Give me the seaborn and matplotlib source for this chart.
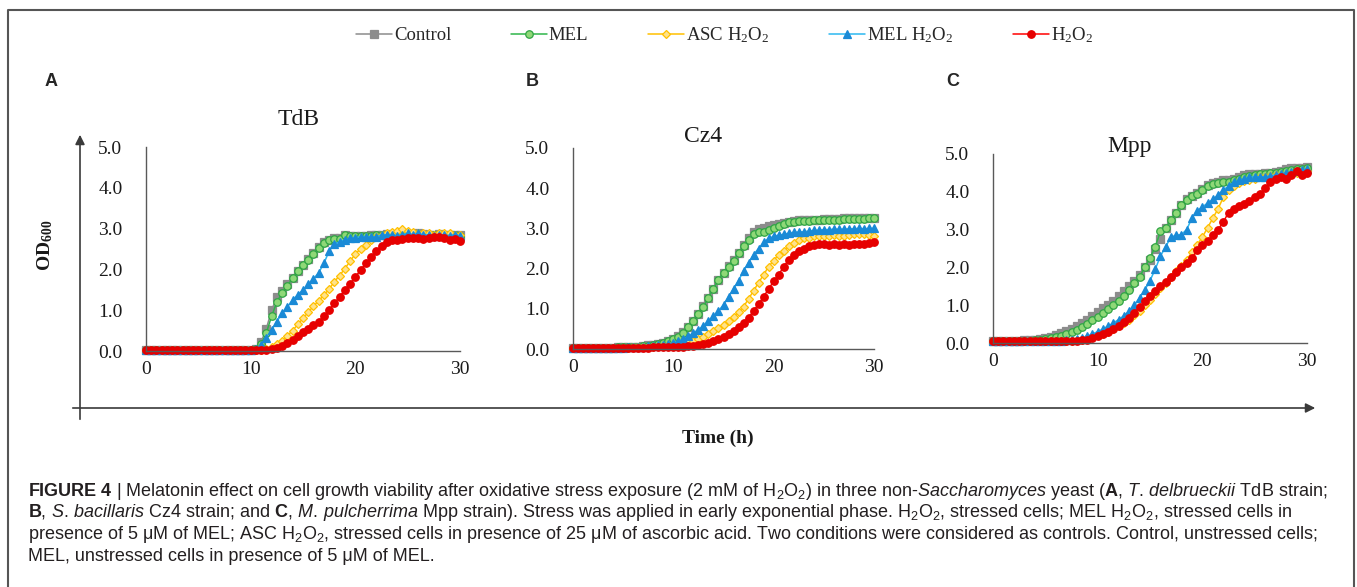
import numpy as np
import matplotlib
matplotlib.use("Agg")
import matplotlib.pyplot as plt
import seaborn as sns

# sampling times (h), one reading every 30 min
time_h = np.arange(0, 30.5, 0.5)

series_names = ["Control", "MEL", "ASC H$_2$O$_2$", "MEL H$_2$O$_2$", "H$_2$O$_2$"]
panel_titles = ["TdB", "Cz4", "Mpp"]
panel_letters = ["A", "B", "C"]

# ---- TdB ----
ctrl_a = [0.02] * 20 + [
    0.03, 0.06, 0.22, 0.55, 1.0, 1.32, 1.47, 1.63, 1.8, 1.96,
    2.1, 2.25, 2.4, 2.55, 2.67, 2.73, 2.77, 2.77, 2.85, 2.82,
    2.82, 2.83, 2.82, 2.84, 2.85, 2.85, 2.86, 2.85, 2.85, 2.87,
    2.86, 2.85, 2.88, 2.86, 2.85, 2.84, 2.86, 2.85, 2.84, 2.85,
    2.84]
mel_a = [0.02] * 20 + [
    0.03, 0.05, 0.16, 0.45, 0.85, 1.2, 1.42, 1.6, 1.78, 1.95,
    2.1, 2.24, 2.38, 2.53, 2.65, 2.71, 2.75, 2.75, 2.85, 2.82,
    2.82, 2.82, 2.83, 2.83, 2.84, 2.85, 2.85, 2.84, 2.85, 2.86,
    2.85, 2.84, 2.86, 2.85, 2.84, 2.84, 2.85, 2.84, 2.83, 2.84,
    2.83]
asc_a = [0.02] * 20 + [
    0.02, 0.02, 0.03, 0.06, 0.1, 0.16, 0.25, 0.37, 0.5, 0.65,
    0.8, 0.95, 1.1, 1.23, 1.37, 1.52, 1.7, 1.85, 2.02, 2.2,
    2.38, 2.5, 2.6, 2.72, 2.8, 2.85, 2.88, 2.92, 2.95, 2.98,
    2.95, 2.92, 2.9, 2.88, 2.88, 2.85, 2.88, 2.9, 2.88, 2.85,
    2.85]
melh_a = [0.02] * 20 + [
    0.02, 0.05, 0.15, 0.33, 0.52, 0.72, 0.92, 1.08, 1.25, 1.38,
    1.5, 1.63, 1.77, 1.92, 2.15, 2.45, 2.62, 2.68, 2.72, 2.76,
    2.78, 2.8, 2.8, 2.8, 2.8, 2.85, 2.85, 2.85, 2.82, 2.85,
    2.88, 2.85, 2.88, 2.85, 2.85, 2.83, 2.85, 2.85, 2.83, 2.85,
    2.83]
h2o2_a = [0.02] * 20 + [
    0.02, 0.02, 0.02, 0.03, 0.05, 0.08, 0.13, 0.2, 0.28, 0.37,
    0.46, 0.55, 0.63, 0.72, 0.85, 1.0, 1.17, 1.33, 1.5, 1.65,
    1.82, 1.98, 2.15, 2.3, 2.45, 2.58, 2.68, 2.73, 2.72, 2.75,
    2.77, 2.78, 2.76, 2.75, 2.77, 2.8, 2.8, 2.78, 2.72, 2.75,
    2.7]

# ---- Cz4 ----
ctrl_b = [
    0.03, 0.03, 0.03, 0.03, 0.03, 0.03, 0.03, 0.03, 0.03, 0.04,
    0.04, 0.04, 0.05, 0.06, 0.07, 0.09, 0.11, 0.13, 0.16, 0.2,
    0.25, 0.32, 0.42, 0.55, 0.7, 0.88, 1.07, 1.28, 1.5, 1.72,
    1.9, 2.06, 2.22, 2.4, 2.58, 2.75, 2.9, 2.98, 3.02, 3.05,
    3.08, 3.1, 3.14, 3.17, 3.19, 3.2, 3.2, 3.21, 3.22, 3.22,
    3.23, 3.23, 3.24, 3.24, 3.25, 3.25, 3.26, 3.26, 3.26, 3.27,
    3.27]
mel_b = [
    0.03, 0.03, 0.03, 0.03, 0.03, 0.03, 0.03, 0.03, 0.03, 0.04,
    0.04, 0.04, 0.05, 0.06, 0.07, 0.08, 0.1, 0.12, 0.15, 0.19,
    0.24, 0.31, 0.41, 0.54, 0.69, 0.87, 1.05, 1.28, 1.5, 1.72,
    1.9, 2.05, 2.2, 2.38, 2.55, 2.7, 2.85, 2.9, 2.92, 2.95,
    3.0, 3.05, 3.1, 3.15, 3.17, 3.18, 3.18, 3.19, 3.2, 3.2,
    3.21, 3.21, 3.22, 3.22, 3.23, 3.23, 3.24, 3.24, 3.24, 3.25,
    3.25]
asc_b = [
    0.03, 0.03, 0.03, 0.03, 0.03, 0.03, 0.03, 0.03, 0.03, 0.03,
    0.03, 0.03, 0.04, 0.04, 0.05, 0.05, 0.06, 0.07, 0.08, 0.1,
    0.11, 0.13, 0.15, 0.18, 0.21, 0.25, 0.3, 0.37, 0.44, 0.52,
    0.6, 0.7, 0.8, 0.92, 1.05, 1.25, 1.45, 1.65, 1.85, 2.05,
    2.2, 2.35, 2.45, 2.55, 2.63, 2.7, 2.75, 2.77, 2.8, 2.8,
    2.82, 2.82, 2.83, 2.82, 2.82, 2.83, 2.85, 2.85, 2.85, 2.84,
    2.82]
melh_b = [
    0.03, 0.03, 0.03, 0.03, 0.03, 0.03, 0.03, 0.03, 0.03, 0.03,
    0.03, 0.04, 0.04, 0.05, 0.06, 0.07, 0.08, 0.09, 0.1, 0.12,
    0.15, 0.19, 0.25, 0.32, 0.4, 0.48, 0.58, 0.7, 0.82, 0.95,
    1.1, 1.3, 1.5, 1.7, 1.95, 2.15, 2.35, 2.5, 2.65, 2.75,
    2.8, 2.83, 2.85, 2.88, 2.9, 2.91, 2.92, 2.93, 2.95, 2.95,
    2.97, 2.97, 2.98, 2.98, 2.98, 2.99, 2.99, 3.0, 2.99, 3.0,
    3.0]
h2o2_b = [
    0.03, 0.03, 0.03, 0.03, 0.03, 0.03, 0.03, 0.03, 0.03, 0.03,
    0.03, 0.03, 0.03, 0.03, 0.03, 0.03, 0.04, 0.04, 0.04, 0.04,
    0.05, 0.05, 0.06, 0.07, 0.08, 0.1, 0.12, 0.15, 0.2, 0.25,
    0.3, 0.37, 0.45, 0.55, 0.65, 0.78, 0.95, 1.12, 1.3, 1.5,
    1.68, 1.85, 2.05, 2.22, 2.35, 2.45, 2.5, 2.55, 2.58, 2.6,
    2.62, 2.58, 2.6, 2.58, 2.6, 2.58, 2.6, 2.6, 2.62, 2.63,
    2.65]

# ---- Mpp ----
ctrl_c = [
    0.04, 0.04, 0.04, 0.05, 0.05, 0.06, 0.07, 0.08, 0.09, 0.11,
    0.14, 0.17, 0.21, 0.26, 0.32, 0.38, 0.45, 0.53, 0.62, 0.72,
    0.82, 0.92, 1.0, 1.12, 1.25, 1.38, 1.5, 1.65, 1.8, 2.0,
    2.2, 2.5, 2.75, 3.05, 3.25, 3.45, 3.65, 3.8, 3.9, 3.98,
    4.08, 4.17, 4.22, 4.27, 4.3, 4.32, 4.35, 4.4, 4.45, 4.47,
    4.48, 4.48, 4.5, 4.5, 4.52, 4.55, 4.6, 4.62, 4.63, 4.64,
    4.66]
mel_c = [
    0.04, 0.04, 0.04, 0.04, 0.05, 0.05, 0.05, 0.06, 0.07, 0.08,
    0.1, 0.12, 0.15, 0.19, 0.25, 0.3, 0.35, 0.42, 0.5, 0.6,
    0.7, 0.8, 0.9, 1.0, 1.1, 1.25, 1.4, 1.58, 1.75, 2.0,
    2.25, 2.55, 2.95, 3.05, 3.25, 3.45, 3.65, 3.78, 3.88, 3.95,
    4.05, 4.15, 4.2, 4.22, 4.25, 4.27, 4.3, 4.35, 4.4, 4.42,
    4.45, 4.46, 4.48, 4.5, 4.5, 4.52, 4.55, 4.58, 4.6, 4.61,
    4.62]
asc_c = [
    0.04, 0.04, 0.04, 0.04, 0.04, 0.04, 0.04, 0.04, 0.04, 0.05,
    0.05, 0.05, 0.05, 0.05, 0.06, 0.06, 0.07, 0.09, 0.12, 0.16,
    0.2, 0.25, 0.3, 0.37, 0.45, 0.53, 0.62, 0.73, 0.85, 1.0,
    1.15, 1.3, 1.45, 1.6, 1.75, 1.9, 2.05, 2.2, 2.4, 2.6,
    2.8, 3.05, 3.3, 3.55, 3.85, 4.05, 4.15, 4.22, 4.28, 4.32,
    4.35, 4.38, 4.4, 4.42, 4.45, 4.45, 4.45, 4.48, 4.5, 4.52,
    4.55]
melh_c = [
    0.04, 0.04, 0.04, 0.04, 0.04, 0.04, 0.04, 0.04, 0.05, 0.05,
    0.05, 0.05, 0.06, 0.06, 0.07, 0.08, 0.1, 0.13, 0.18, 0.24,
    0.3, 0.37, 0.45, 0.53, 0.62, 0.72, 0.85, 1.0, 1.2, 1.4,
    1.65, 1.95, 2.3, 2.55, 2.8, 2.85, 2.87, 3.0, 3.3, 3.5,
    3.6, 3.7, 3.8, 3.92, 4.05, 4.15, 4.25, 4.3, 4.35, 4.38,
    4.4, 4.4, 4.4, 4.42, 4.45, 4.48, 4.5, 4.52, 4.55, 4.57,
    4.6]
h2o2_c = [
    0.04, 0.04, 0.04, 0.04, 0.04, 0.04, 0.04, 0.04, 0.04, 0.04,
    0.04, 0.04, 0.04, 0.04, 0.04, 0.04, 0.05, 0.07, 0.09, 0.13,
    0.18, 0.24, 0.3, 0.37, 0.45, 0.55, 0.65, 0.8, 0.95, 1.1,
    1.25, 1.38, 1.5, 1.62, 1.75, 1.88, 2.0, 2.12, 2.25, 2.45,
    2.6, 2.7, 2.85, 3.0, 3.2, 3.45, 3.55, 3.62, 3.68, 3.75,
    3.85, 3.95, 4.1, 4.25, 4.35, 4.4, 4.35, 4.45, 4.55, 4.45,
    4.5]

panels = [
    [ctrl_a, mel_a, asc_a, melh_a, h2o2_a],
    [ctrl_b, mel_b, asc_b, melh_b, h2o2_b],
    [ctrl_c, mel_c, asc_c, melh_c, h2o2_c],
]
for p in panels:
    for s in p:
        assert len(s) == len(time_h), len(s)

# line colour, marker, marker face, marker edge
styles = [
    ("#8c8c8c", "s", "#8c8c8c", "#8c8c8c"),
    ("#2fb54a", "o", "#8fd877", "#2fa544"),
    ("#ffc000", "D", "#ffe28a", "#ffc000"),
    ("#2cb8f0", "^", "#1a8ad6", "#1a8ad6"),
    ("#ff0000", "o", "#e60000", "#e60000"),
]

sns.set_style("white")
plt.rcParams["font.family"] = ["Liberation Serif", "DejaVu Serif"]
plt.rcParams["mathtext.fontset"] = "custom"
plt.rcParams["mathtext.default"] = "regular"
plt.rcParams["mathtext.rm"] = "Liberation Sans"
plt.rcParams["mathtext.it"] = "Liberation Sans:italic"
plt.rcParams["mathtext.bf"] = "Liberation Sans:bold"

W, H = 1357, 587
fig = plt.figure(figsize=(W / 100, H / 100), dpi=100)

# background layer in pixel units for frame, big arrows and captions
bg = fig.add_axes([0, 0, 1, 1], zorder=-1)
bg.set_xlim(0, W)
bg.set_ylim(H, 0)
bg.axis("off")
bg.plot([8, 8, 1354, 1354], [H, 10, 10, H], color="#555555", lw=1.5)
arrow = dict(arrowstyle="-|>", color="#3a3a3a", lw=1.2, mutation_scale=14)
bg.annotate("", xy=(80, 132), xytext=(80, 422), arrowprops=arrow)
bg.annotate("", xy=(1318, 408), xytext=(70, 408), arrowprops=arrow)

# panel boxes: left, bottom, width, height
boxes = [
    (146 / W, 1 - 351 / H, 314 / W, 204 / H),
    (573 / W, 1 - 349 / H, 301 / W, 201 / H),
    (993 / W, 1 - 343 / H, 314 / W, 189 / H),
]
title_pos = [(0.487, 1.135), (0.432, 1.055), (0.436, 1.042)]
letter_x = [51, 532, 953]

handles = None
for i, (box, data) in enumerate(zip(boxes, panels)):
    ax = fig.add_axes(box)
    ax.set_facecolor("none")
    for name, vals, (lc, mk, mfc, mec) in zip(series_names, data, styles):
        sns.lineplot(x=time_h, y=vals, ax=ax, color=lc, lw=1.1, marker=mk,
                     markersize=5.4 if mk != "D" else 4.4,
                     markerfacecolor=mfc, markeredgecolor=mec,
                     markeredgewidth=0.9, label=name, clip_on=False)
    if handles is None:
        handles, labels = ax.get_legend_handles_labels()
    ax.get_legend().remove()
    ax.set_xlim(0, 30)
    ax.set_ylim(0, 5)
    ax.set_xticks([0, 10, 20, 30])
    ax.set_yticks([0, 1, 2, 3, 4, 5])
    ax.set_yticklabels([f"{v:.1f}" for v in range(6)])
    ax.set_xlabel("")
    ax.set_ylabel("")
    sns.despine(ax=ax)
    for sp in ["left", "bottom"]:
        ax.spines[sp].set_color("#595959")
        ax.spines[sp].set_linewidth(1.0)
    ax.tick_params(axis="both", length=0, labelsize=14, labelcolor="#1a1a1a")
    ax.tick_params(axis="y", pad=17)
    ax.tick_params(axis="x", pad=7)
    ax.text(title_pos[i][0], title_pos[i][1], panel_titles[i], transform=ax.transAxes,
            ha="center", va="center", fontsize=17, color="#1a1a1a")
    bg.text(letter_x[i], 82, panel_letters[i], ha="center", va="center",
            fontsize=13, fontweight="bold", family="Liberation Sans")

fig.legend(handles, labels, loc="center", bbox_to_anchor=(0.534, 1 - 35 / H), ncol=5,
           frameon=False, fontsize=13.5, handlelength=1.9, handletextpad=0.1,
           columnspacing=3.2, numpoints=1)

bg.text(45, 245, r"OD$_{600}$", rotation=90, ha="center", va="center",
        fontsize=14, fontweight="bold", color="#1a1a1a")
bg.text(718, 438, "Time (h)", ha="center", va="center", fontsize=14,
        fontweight="bold", color="#1a1a1a")

caption = [
    r"$\mathbf{FIGURE\ 4}$ | Melatonin effect on cell growth viability after oxidative stress exposure (2 mM of H$_2$O$_2$) in three non-$\mathit{Saccharomyces}$ yeast ($\mathbf{A}$, $\mathit{T.\ \!delbrueckii}$ TdB strain;",
    r"$\mathbf{B}$, $\mathit{S.\ \!bacillaris}$ Cz4 strain; and $\mathbf{C}$, $\mathit{M.\ \!pulcherrima}$ Mpp strain). Stress was applied in early exponential phase. H$_2$O$_2$, stressed cells; MEL H$_2$O$_2$, stressed cells in",
    r"presence of 5 μM of MEL; ASC H$_2$O$_2$, stressed cells in presence of 25 μM of ascorbic acid. Two conditions were considered as controls. Control, unstressed cells;",
    r"MEL, unstressed cells in presence of 5 μM of MEL.",
]
for k, line in enumerate(caption):
    bg.text(28, 491 + k * 21.7, line, ha="left", va="center", fontsize=13.0,
            family="Liberation Sans", color="#231f20")

fig.savefig("out.png", dpi=100)
